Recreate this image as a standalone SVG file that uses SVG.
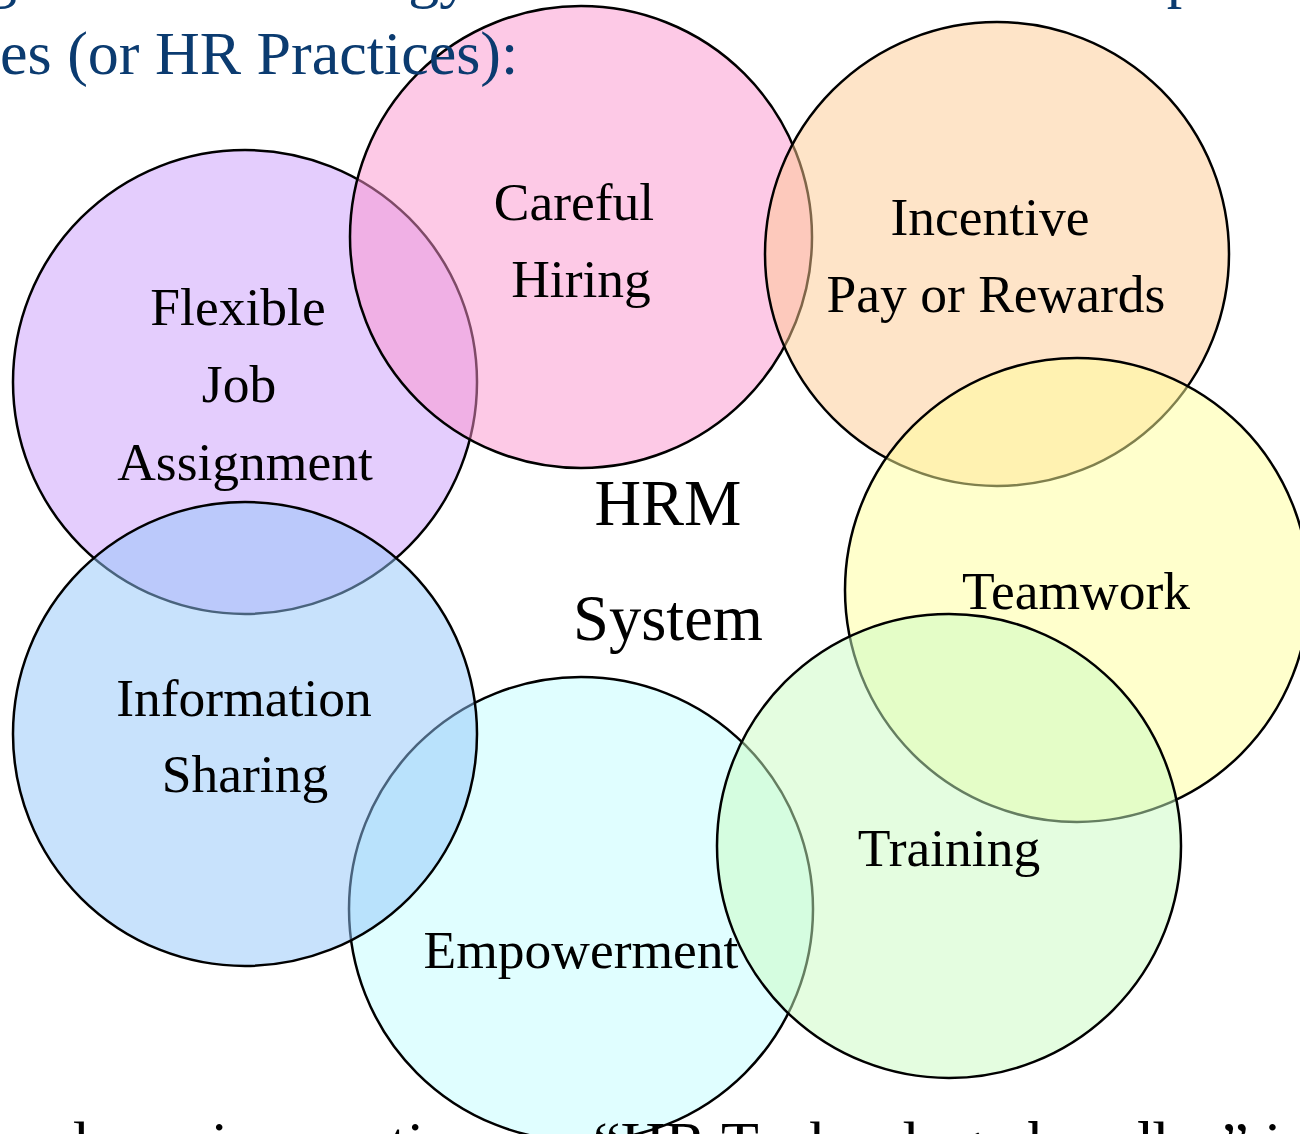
<svg xmlns="http://www.w3.org/2000/svg" width="1300" height="1134" viewBox="0 0 1300 1134">
<style>
.c{stroke:#000;stroke-width:2.5;fill-opacity:0.5}
.t{font-family:"Liberation Serif","Times New Roman",serif;font-size:53.5px;fill:#000;text-anchor:middle}
.big{font-family:"Liberation Serif","Times New Roman",serif;font-size:64.5px;fill:#000;text-anchor:middle}
.hdr{font-family:"Liberation Serif","Times New Roman",serif;font-size:62px;fill:#0b3b70}
.foot{font-family:"Liberation Serif","Times New Roman",serif;font-size:62px;fill:#000}
</style>
<rect width="1300" height="1134" fill="#fff"/>
<g id="flexible"><circle class="c" cx="245" cy="382" r="232" fill="#c99bfb"/></g>
<g id="careful"><circle class="c" cx="581" cy="237" r="231" fill="#fb93cd"/></g>
<g id="incentive"><circle class="c" cx="997" cy="254" r="232" fill="#fdc991"/></g>
<g id="teamwork"><circle class="c" cx="1077" cy="590" r="232" fill="#ffff99"/></g>
<g id="empowerment"><circle class="c" cx="581" cy="909" r="232" fill="#c1fdff"/></g>
<g id="information"><circle class="c" cx="245" cy="734" r="232" fill="#91c5f9"/></g>
<g id="training"><circle class="c" cx="949" cy="846" r="232" fill="#c9fbc1"/></g>
<g id="connectors"></g>
<g id="labels">
<text class="t" x="574" y="220">Careful</text>
<text class="t" x="581" y="297">Hiring</text>
<text class="t" x="990" y="235">Incentive</text>
<text class="t" x="996" y="312">Pay or Rewards</text>
<text class="t" x="238" y="325">Flexible</text>
<text class="t" x="239" y="402">Job</text>
<text class="t" x="245" y="480">Assignment</text>
<text class="t" x="1076" y="609">Teamwork</text>
<text class="t" x="244" y="716">Information</text>
<text class="t" x="245" y="792">Sharing</text>
<text class="t" x="581" y="968">Empowerment</text>
<text class="t" x="949" y="866">Training</text>
</g>
<g id="hrm">
<text class="big" x="668" y="525">HRM</text>
<text class="big" x="668" y="640">System</text>
</g>
<g id="header">
<text class="hdr" y="-4"><tspan x="-45">ng business</tspan><tspan x="274">strategy is achieved with the</tspan><tspan x="1060">complementary</tspan></text>
<text class="hdr" x="0" y="74">es (or HR Practices):</text>
</g>
<g id="footer">
<text class="foot" y="1164"><tspan x="-158">additional use</tspan><tspan x="211">in</tspan><tspan x="283">practices as</tspan><tspan x="593">“HR Technology bundles” is</tspan></text>
</g>
</svg>
